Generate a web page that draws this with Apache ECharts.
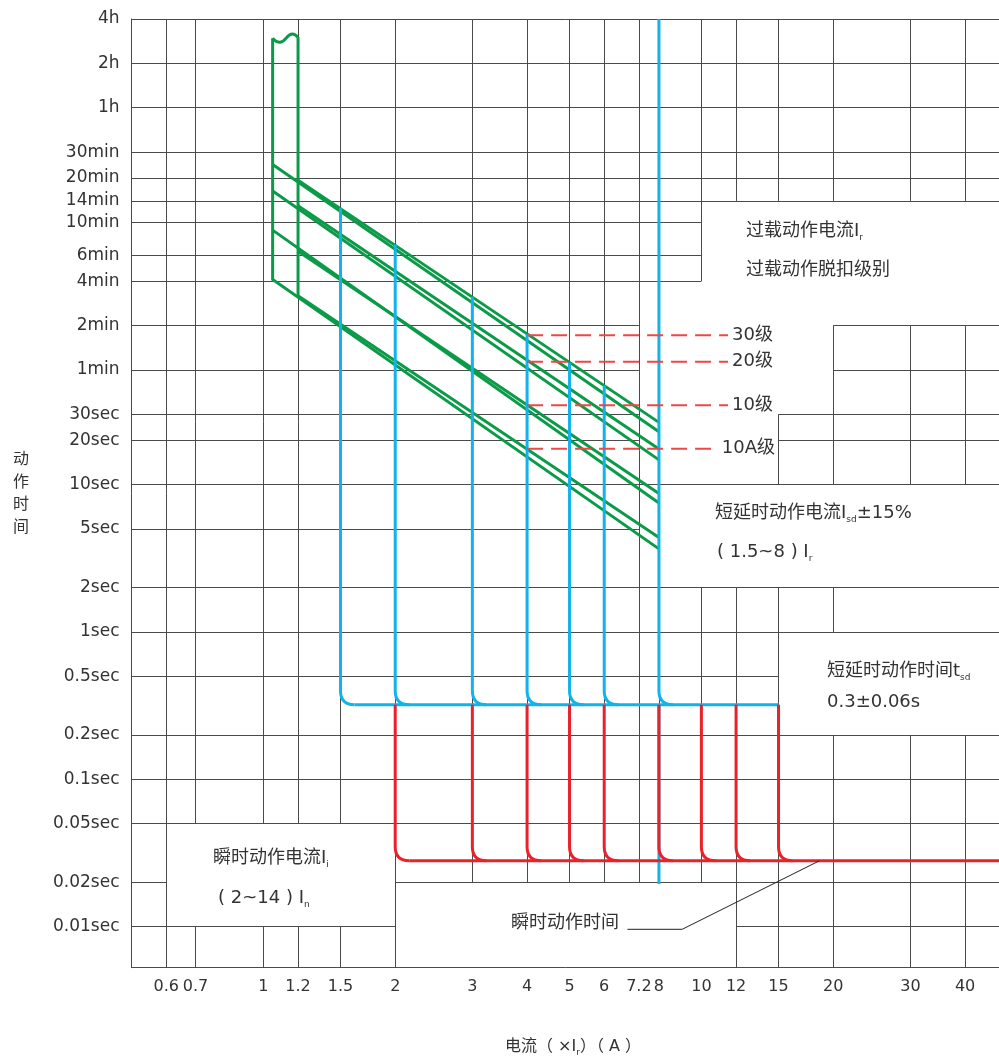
<!DOCTYPE html>
<html>
<head>
<meta charset="utf-8">
<script src="https://cdn.jsdelivr.net/npm/echarts@6/dist/echarts.min.js"></script>
<style>
html,body{margin:0;padding:0;background:#fff;}
#chart{width:999px;height:1058px;}
</style>
</head>
<body>
<div id="chart"></div>
<script>
// ---------------- data ----------------
const X_MIN = 0.5, X_MAX = 47.8;          // current, multiples of Ir
const Y_MIN = 0.00527, Y_MAX = 14400;     // time, seconds

const xTicks = [0.6, 0.7, 1, 1.2, 1.5, 2, 3, 4, 5, 6, 7.2, 8, 10, 12, 15, 20, 30, 40];
const yTicks = [14400, 7200, 3600, 1800, 1200, 840, 600, 360, 240, 120, 60, 30, 20, 10, 5, 2, 1, 0.5, 0.2, 0.1, 0.05, 0.02, 0.01];
const yTickLabels = ['4h', '2h', '1h', '30min', '20min', '14min', '10min', '6min', '4min', '2min', '1min',
  '30sec', '20sec', '10sec', '5sec', '2sec', '1sec', '0.5sec', '0.2sec', '0.1sec', '0.05sec', '0.02sec', '0.01sec'];

// grid segments that are visible (the rest is hidden by the annotation boxes)
// vertical: [x, yFrom, yTo]
const gridV = [
  [0.6, Y_MIN, Y_MAX],
  [0.7, Y_MIN, 0.01], [0.7, 0.05, Y_MAX],
  [1, Y_MIN, 0.01], [1, 0.05, Y_MAX],
  [1.2, Y_MIN, 0.01], [1.2, 0.05, Y_MAX],
  [1.5, Y_MIN, 0.01], [1.5, 0.05, Y_MAX],
  [2, Y_MIN, Y_MAX],
  [3, 0.02, Y_MAX], [4, 0.02, Y_MAX], [5, 0.02, Y_MAX], [6, 0.02, Y_MAX], [7.2, 0.02, Y_MAX], [8, 0.02, Y_MAX],
  [10, 0.02, 2], [10, 240, Y_MAX],
  [12, Y_MIN, 2], [12, 840, Y_MAX],
  [15, Y_MIN, 2], [15, 10, 30], [15, 840, Y_MAX],
  [20, Y_MIN, 0.2], [20, 1, 2], [20, 10, 120], [20, 840, Y_MAX],
  [30, Y_MIN, 0.2], [30, 10, 120], [30, 840, Y_MAX],
  [40, Y_MIN, 0.2], [40, 10, 120], [40, 840, Y_MAX]
];
// horizontal: [y, xFrom, xTo]
const gridH = [
  [14400, X_MIN, X_MAX], [7200, X_MIN, X_MAX], [3600, X_MIN, X_MAX], [1800, X_MIN, X_MAX],
  [1200, X_MIN, X_MAX], [840, X_MIN, X_MAX],
  [600, X_MIN, 10], [360, X_MIN, 10], [240, X_MIN, 10],
  [120, X_MIN, 7.2], [120, 20, X_MAX],
  [60, X_MIN, 7.2], [60, 20, X_MAX],
  [30, X_MIN, 7.2], [30, 15, X_MAX],
  [20, X_MIN, 7.2], [20, 15, X_MAX],
  [10, X_MIN, X_MAX],
  [5, X_MIN, 7.2],
  [2, X_MIN, X_MAX], [1, X_MIN, X_MAX],
  [0.5, X_MIN, 15],
  [0.2, X_MIN, X_MAX], [0.1, X_MIN, X_MAX], [0.05, X_MIN, X_MAX],
  [0.02, X_MIN, 0.6], [0.02, 2, X_MAX],
  [0.01, X_MIN, 2], [0.01, 12, X_MAX]
];

// overload (long-time) bands, green
const greenLX = 1.05, greenRX = 1.2, greenEndX = 8;
const greenLStart = [1485, 979, 532, 246];
const greenLEnd   = [22.8, 14.7, 7.5, 3.66];
const greenRStart = [1162, 780, 383, 191];
const greenREnd   = [26.4, 17.4, 8.7, 4.37];
const greenLTop = 10656, greenRTop = 10815;
const greenWave = [[1.05, 10656], [1.09, 10000], [1.165, 11400], [1.2, 10815]];

// short-time delay, blue
const blueX   = [1.5, 2, 3, 4, 5, 6, 8];
const blueTop = [750, 425, 188, 105, 67, 47, 14400];
const blueTime = 0.32, blueEndX = 15, blue8Bottom = 0.0195;

// instantaneous, red
const redX = [2, 3, 4, 5, 6, 8, 10, 12, 15];
const redTime = 0.028;

// trip classes, dashed
const classNames = ['30级', '20级', '10级', '10A级'];
const classTimes = [103, 68, 34.5, 17.5];
const classStartX = 4;
const classEndX = [11.5, 11.5, 11.5, 10.9];

// leader line of "瞬时动作时间"
const leaderPts = [[6.78, 0.0096], [9.04, 0.0096], [18.6, 0.028]];

// ---------------- chart ----------------
const FONT = '"DejaVu Sans","Noto Sans CJK SC",sans-serif';
const TXT = '#333';
const GREEN = '#0b9a48', BLUE = '#12b2ec', RED = '#e9222a', DASH = '#ef4646', GRID = '#4a4a4a';
const R = 14;

const chart = echarts.init(document.getElementById('chart'), null, {renderer: 'canvas'});

const gridData = gridV.map(s => ({coords: [[s[0], s[1]], [s[0], s[2]]]}))
  .concat(gridH.map(s => ({coords: [[s[1], s[0]], [s[2], s[0]]]})));

const greenLines = [];
for (let i = 0; i < 4; i++) {
  if (i === 3) {
    greenLines.push([[greenEndX, greenLEnd[i]], [greenLX, greenLStart[i]], [greenLX, greenLTop]]);
    greenLines.push([[greenEndX, greenREnd[i]], [greenRX, greenRStart[i]], [greenRX, greenRTop]]);
  } else {
    greenLines.push([[greenLX, greenLStart[i]], [greenEndX, greenLEnd[i]]]);
    greenLines.push([[greenRX, greenRStart[i]], [greenEndX, greenREnd[i]]]);
  }
}
const greenSeries = greenLines.map(d => ({
  type: 'line', z: 3, silent: true, symbol: 'none', data: d,
  lineStyle: {color: GREEN, width: 3, join: 'miter'}
}));

function verticalRenderer(color) {
  return function (params, api) {
    const x = api.value(0), y0 = api.value(1), y1 = api.value(2), corner = api.value(3);
    const a = api.coord([x, y0]), b = api.coord([x, y1]);
    const d = corner
      ? `M${a[0]} ${a[1]} L${b[0]} ${b[1] - R} Q${b[0]} ${b[1]} ${b[0] + R} ${b[1]}`
      : `M${a[0]} ${a[1]} L${b[0]} ${b[1]}`;
    return {type: 'path', shape: {pathData: d}, style: {stroke: color, lineWidth: 3, fill: 'none'}};
  };
}
function horizontalRenderer(color) {
  return function (params, api) {
    const a = api.coord([api.value(0), api.value(2)]), b = api.coord([api.value(1), api.value(2)]);
    return {type: 'path', shape: {pathData: `M${a[0] + R} ${a[1]} L${b[0]} ${b[1]}`},
      style: {stroke: color, lineWidth: 3, fill: 'none'}};
  };
}

const blueV = blueX.map((x, i) => [x, blueTop[i], blueTime, 1]);
blueV.push([8, blueTime, blue8Bottom, 0]);
const redV = redX.map(x => [x, blueTime, redTime, 1]);

const classSeries = classNames.map((n, i) => ({
  name: n, type: 'line', z: 6, silent: true, symbol: 'none',
  data: [[classStartX, classTimes[i]], [classEndX[i], classTimes[i]]],
  lineStyle: {color: DASH, width: 2, type: [16, 8]},
  endLabel: {show: true, formatter: '{a}', color: TXT, fontSize: 18, fontFamily: FONT, distance: 4}
}));

const subRich = {sub: {fontSize: 9, fontFamily: FONT, fill: TXT, verticalAlign: 'bottom', lineHeight: 12}};
function txt(x, y, t, size) {
  return {type: 'text', x: x, y: y, silent: true,
    style: {text: t, fill: TXT, fontSize: size || 18, fontFamily: FONT, align: 'left', verticalAlign: 'middle',
      lineHeight: 23, rich: subRich}};
}

const option = {
  animation: false,
  backgroundColor: '#fff',
  grid: {left: 131.5, right: 0, top: 19, bottom: 90.3, containLabel: false},
  xAxis: {
    type: 'log', logBase: 10, min: X_MIN, max: X_MAX,
    axisLine: {show: true, onZero: false, lineStyle: {color: GRID, width: 1}},
    axisTick: {show: false},
    splitLine: {show: false},
    axisLabel: {
      customValues: xTicks, color: TXT, fontSize: 16, fontFamily: FONT, margin: 11,
      formatter: v => { const i = xTicks.findIndex(t => Math.abs(Math.log10(t) - Math.log10(v)) < 1e-6); return i >= 0 ? String(xTicks[i]) : ''; }
    }
  },
  yAxis: {
    type: 'log', logBase: 10, min: Y_MIN, max: Y_MAX,
    axisLine: {show: true, onZero: false, lineStyle: {color: GRID, width: 1}},
    axisTick: {show: false},
    splitLine: {show: false},
    axisLabel: {
      customValues: yTicks, color: TXT, fontSize: 17, fontFamily: FONT, margin: 12,
      formatter: v => { const i = yTicks.findIndex(t => Math.abs(Math.log10(t) - Math.log10(v)) < 1e-6); return i >= 0 ? yTickLabels[i] : ''; }
    }
  },
  graphic: [
    {type: 'text', x: 21, y: 494, silent: true,
      style: {text: '动\n作\n时\n间', fill: TXT, fontSize: 16, fontFamily: FONT, align: 'center', verticalAlign: 'middle', lineHeight: 22.5}},
    {type: 'text', x: 573, y: 1047, silent: true,
      style: {text: '电流（ ×I{sub|r}）（ A ）', fill: TXT, fontSize: 16, fontFamily: FONT, align: 'center', verticalAlign: 'middle',
        lineHeight: 21, rich: subRich}},
    txt(746, 231, '过载动作电流I{sub|r}'),
    txt(746, 270, '过载动作脱扣级别'),
    txt(715, 513, '短延时动作电流I{sub|sd}±15%'),
    txt(717, 552, '( 1.5~8 ) I{sub|r}'),
    txt(827, 671, '短延时动作时间t{sub|sd}'),
    txt(827, 702, '0.3±0.06s'),
    txt(213, 858, '瞬时动作电流I{sub|i}'),
    txt(218, 898, '( 2~14 ) I{sub|n}'),
    txt(511, 923, '瞬时动作时间')
  ],
  series: [
    {type: 'lines', coordinateSystem: 'cartesian2d', z: 1, silent: true, clip: false, polyline: false,
      lineStyle: {color: GRID, width: 1, opacity: 1, curveness: 0}, data: gridData},
    ...greenSeries,
    {type: 'line', z: 3, silent: true, symbol: 'none', smooth: 0.5, data: greenWave,
      lineStyle: {color: GREEN, width: 3}},
    {type: 'custom', z: 4, silent: true, encode: {x: 0, y: 1}, data: blueV, renderItem: verticalRenderer(BLUE)},
    {type: 'custom', z: 4, silent: true, encode: {x: [0, 1], y: 2}, data: [[blueX[0], blueEndX, blueTime]], renderItem: horizontalRenderer(BLUE)},
    {type: 'custom', z: 5, silent: true, encode: {x: 0, y: 1}, data: redV, renderItem: verticalRenderer(RED)},
    {type: 'custom', z: 5, silent: true, encode: {x: [0, 1], y: 2}, data: [[redX[0], X_MAX, redTime]], renderItem: horizontalRenderer(RED)},
    ...classSeries,
    {type: 'line', z: 6, silent: true, symbol: 'none', data: leaderPts, lineStyle: {color: '#222', width: 1}}
  ]
};
chart.setOption(option);
</script>
</body>
</html>
